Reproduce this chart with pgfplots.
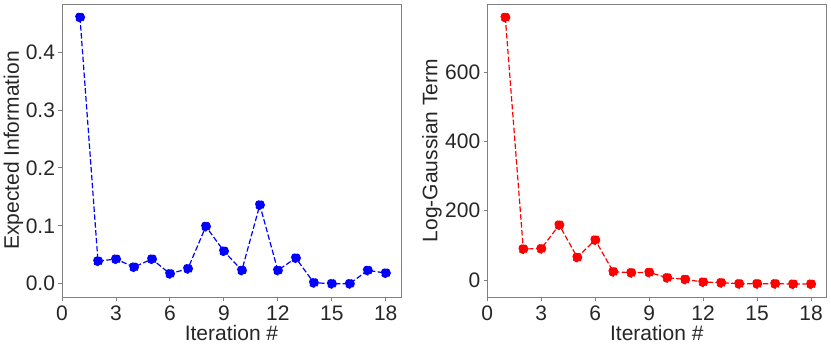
\documentclass[border=0pt]{standalone}
\usepackage{pgfplots}
\pgfplotsset{compat=1.18}
\usepackage{fontspec}
\setmainfont{Liberation Sans}
\definecolor{txt}{HTML}{262626}
\definecolor{spine}{HTML}{808080}
\pgfplotsset{
  myaxis/.style={
    scale only axis, width=339pt, height=293pt,
    font=\fontsize{21}{24}\selectfont, color=txt,
    axis line style={spine, line width=0.9pt},
    tick style={spine, line width=0.9pt},
    major tick length=3.5pt, tick align=outside,
    xtick pos=bottom, ytick pos=left,
    xmin=0, xmax=18.85,
    xtick={0,3,...,18},
    /pgf/number format/assume math mode=true,
    xticklabel style={yshift=-2pt},
    xlabel={Iteration \#},
    xlabel style={at={(axis description cs:0.5,-0.148)}, anchor=base},
    every axis plot/.append style={line width=1.2pt, dash pattern=on 5.5pt off 2.4pt,
       mark=*, mark size=4.5pt, mark options={solid, line width=0.5pt}},
  }
}
\begin{document}
\begin{tikzpicture}[x=1pt,y=1pt]
\begin{axis}[myaxis, at={(62pt,52pt)}, anchor=south west,
  ymin=-0.023, ymax=0.483, ytick={0,0.1,0.2,0.3,0.4},
  yticklabel style={/pgf/number format/.cd, fixed, fixed zerofill, precision=1},
  ylabel={Expected Information},
  ylabel style={at={(axis description cs:-0.143,0.5)}, anchor=center},
]
\addplot[blue, mark options={fill=blue, draw=blue}] coordinates {
(1,0.460) (2,0.039) (3,0.0425) (4,0.0287) (5,0.0425) (6,0.0172) (7,0.0259)
(8,0.0989) (9,0.0563) (10,0.023) (11,0.136) (12,0.023) (13,0.0443) (14,0.0017)
(15,0.0) (16,0.0) (17,0.023) (18,0.0184)};
\end{axis}
\begin{axis}[myaxis, at={(487.3pt,52pt)}, anchor=south west,
  ymin=-49, ymax=796.5, ytick={0,200,400,600},
  ylabel={Log-Gaussian Term},
  ylabel style={at={(axis description cs:-0.163,0.5)}, anchor=center},
]
\addplot[red, mark options={fill=red, draw=red}] coordinates {
(1,758) (2,89.6) (3,90.5) (4,158.9) (5,65.5) (6,115.6) (7,24.1)
(8,21.2) (9,22.1) (10,6.7) (11,1.9) (12,-5.8) (13,-7.7) (14,-10.6)
(15,-10.6) (16,-10.6) (17,-11.6) (18,-11.6)};
\end{axis}
\pgfresetboundingbox
\path (0,0) rectangle (831,349);
\end{tikzpicture}
\end{document}
